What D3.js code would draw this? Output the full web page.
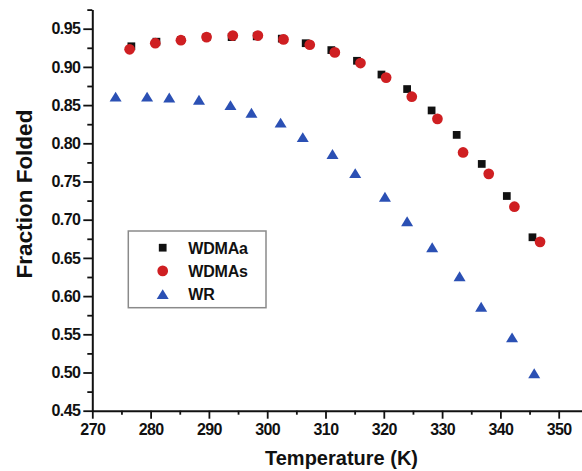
<!DOCTYPE html>
<html>
<head>
<meta charset="utf-8">
<script src="https://cdn.jsdelivr.net/npm/d3@7"></script>
<style>
  body { margin: 0; background: #fff; }
  svg { display: block; font-family: "Liberation Sans", Arial, sans-serif; }
  .tick text { font-weight: bold; font-size: 16px; letter-spacing: -0.6px; fill: #111; }
</style>
</head>
<body>
<svg id="chart" width="582" height="471"></svg>
<script>
// values
const tempA = [276.7, 281.0, 285.2, 289.6, 293.9, 298.2, 302.5, 306.6, 311.0, 315.4, 319.6, 324.0, 328.2, 332.5, 336.8, 341.1, 345.5];
const fracA = [0.927, 0.933, 0.935, 0.939, 0.939, 0.940, 0.937, 0.931, 0.922, 0.908, 0.890, 0.871, 0.843, 0.811, 0.773, 0.731, 0.677];

const tempS = [276.4, 280.8, 285.2, 289.6, 294.1, 298.4, 302.8, 307.3, 311.6, 316.0, 320.4, 324.8, 329.2, 333.6, 338.0, 342.4, 346.8];
const fracS = [0.923, 0.931, 0.935, 0.939, 0.941, 0.941, 0.936, 0.929, 0.919, 0.905, 0.886, 0.861, 0.832, 0.788, 0.760, 0.717, 0.671];

const tempR = [274.0, 279.4, 283.2, 288.3, 293.7, 297.3, 302.3, 306.1, 311.2, 315.1, 320.2, 324.0, 328.3, 333.0, 336.7, 342.0, 345.8];
const fracR = [0.861, 0.861, 0.860, 0.857, 0.850, 0.840, 0.827, 0.808, 0.786, 0.761, 0.730, 0.698, 0.664, 0.626, 0.586, 0.546, 0.499];

const seriesNames = ['WDMAa', 'WDMAs', 'WR'];
const xMajor = [270, 280, 290, 300, 310, 320, 330, 340, 350];
const xMinor = [275, 285, 295, 305, 315, 325, 335, 345];
const yMajor = [0.45, 0.50, 0.55, 0.60, 0.65, 0.70, 0.75, 0.80, 0.85, 0.90, 0.95];
const yMinor = [0.475, 0.525, 0.575, 0.625, 0.675, 0.725, 0.775, 0.825, 0.875, 0.925, 0.975];

const svg = d3.select('#chart');

const x0 = 92.3, pxPerK = 5.83;
const x = d3.scaleLinear()
    .domain([270, 270 + (582 - x0) / pxPerK])
    .range([x0, 582]);
const y = d3.scaleLinear()
    .domain([0.45, 0.975])
    .range([410.7, 9.6]);

const yBase = y(0.45);

// x axis
const xAxis = svg.append('g')
    .attr('transform', `translate(0,${yBase})`)
    .call(d3.axisBottom(x).tickValues(xMajor).tickSize(8).tickPadding(4).tickSizeOuter(0).tickFormat(d3.format('d')));
svg.append('g')
    .attr('transform', `translate(0,${yBase})`)
    .call(d3.axisBottom(x).tickValues(xMinor).tickSize(4).tickSizeOuter(0).tickFormat(''))
    .select('.domain').remove();

// y axis
const yAxis = svg.append('g')
    .attr('transform', `translate(${x0},0)`)
    .call(d3.axisLeft(y).tickValues(yMajor).tickSize(9).tickPadding(3).tickSizeOuter(0).tickFormat(d3.format('.2f')));
svg.append('g')
    .attr('transform', `translate(${x0},0)`)
    .call(d3.axisLeft(y).tickValues(yMinor).tickSize(5).tickSizeOuter(0).tickFormat(''))
    .select('.domain').remove();

svg.selectAll('.domain').attr('stroke', '#111').attr('stroke-width', 2);
svg.selectAll('.tick line').attr('stroke', '#111').attr('stroke-width', 1.8);
xAxis.selectAll('.tick text').attr('dy', '0.78em');

// markers
const triangle = {
    draw(ctx, size) {
        const w = Math.sqrt(size) * 1.55, h = w * 0.82;
        ctx.moveTo(0, -h / 2);
        ctx.lineTo(w / 2, h / 2);
        ctx.lineTo(-w / 2, h / 2);
        ctx.closePath();
    }
};

const series = [
    { name: seriesNames[0], t: tempA, f: fracA, color: '#111', sym: d3.symbolSquare, size: 60 },
    { name: seriesNames[1], t: tempS, f: fracS, color: '#cf1f22', sym: d3.symbolCircle, size: 90 },
    { name: seriesNames[2], t: tempR, f: fracR, color: '#2b50b4', sym: triangle, size: 60 }
];

series.forEach(s => {
    svg.append('g')
        .selectAll('path')
        .data(s.t.map((t, i) => [t, s.f[i]]))
        .join('path')
        .attr('transform', d => `translate(${x(d[0])},${y(d[1])})`)
        .attr('d', d3.symbol().type(s.sym).size(s.size))
        .attr('fill', s.color);
});

// legend
const legend = svg.append('g');
legend.append('rect')
    .attr('x', 128.3).attr('y', 231)
    .attr('width', 137.7).attr('height', 76.7)
    .attr('fill', '#fff')
    .attr('stroke', '#8a8a8a')
    .attr('stroke-width', 1.5);

series.forEach((s, i) => {
    const cy = 247.7 + i * 23.2;
    legend.append('path')
        .attr('transform', `translate(162.7,${cy})`)
        .attr('d', d3.symbol().type(s.sym).size(s.size))
        .attr('fill', s.color);
    legend.append('text')
        .attr('x', 188.3).attr('y', cy + 5.8)
        .attr('font-size', 16).attr('font-weight', 'bold')
        .attr('letter-spacing', '-0.2px')
        .attr('fill', '#111')
        .text(s.name);
});

// axis titles
svg.append('text')
    .attr('x', 341.5).attr('y', 464.5)
    .attr('text-anchor', 'middle')
    .attr('font-size', 20).attr('font-weight', 'bold')
    .attr('fill', '#111')
    .text('Temperature (K)');

svg.append('text')
    .attr('transform', 'translate(31.5,194) rotate(-90)')
    .attr('text-anchor', 'middle')
    .attr('font-size', 22.5).attr('font-weight', 'bold')
    .attr('fill', '#111')
    .text('Fraction Folded');
</script>
</body>
</html>
